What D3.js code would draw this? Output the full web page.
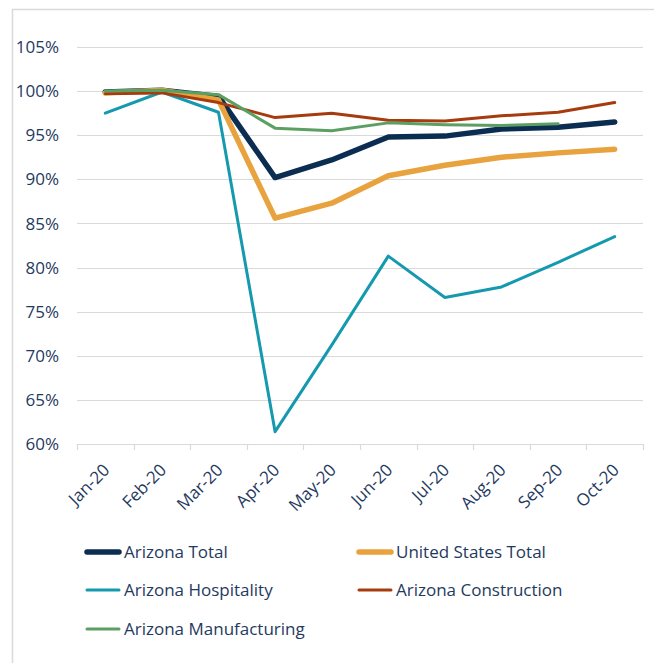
<!DOCTYPE html>
<html>
<head>
<meta charset="utf-8">
<script src="https://cdn.jsdelivr.net/npm/d3@7"></script>
<style>
  body { margin: 0; background: #fff; }
  text { font-family: 'Open Sans', 'Noto Sans', sans-serif; fill: #1f3a5f; }
</style>
</head>
<body>
<div id="chart"></div>
<script>
const W = 654;
const H = 663;

const months = ['Jan-20', 'Feb-20', 'Mar-20', 'Apr-20', 'May-20', 'Jun-20', 'Jul-20', 'Aug-20', 'Sep-20', 'Oct-20'];
const yTicks = [0.60, 0.65, 0.70, 0.75, 0.80, 0.85, 0.90, 0.95, 1.00, 1.05];

// share of Jan/Feb employment
const azTotal = [0.999, 1.001, 0.994, 0.902, 0.922, 0.948, 0.949, 0.957, 0.959, 0.965];
const usTotal = [0.998, 1.001, 0.990, 0.856, 0.873, 0.904, 0.916, 0.925, 0.930, 0.934];
const azHospitality = [0.975, 0.999, 0.976, 0.614, 0.712, 0.813, 0.766, 0.778, 0.806, 0.835];
const azConstruction = [0.997, 0.998, 0.987, 0.970, 0.975, 0.967, 0.966, 0.972, 0.976, 0.987];
const azManufacturing = [1.000, 1.001, 0.996, 0.958, 0.955, 0.964, 0.962, 0.961, 0.963, null];

const series = [
  { name: 'Arizona Total', values: azTotal, color: '#0b2d52', width: 5.5 },
  { name: 'United States Total', values: usTotal, color: '#e8a23e', width: 5.5 },
  { name: 'Arizona Hospitality', values: azHospitality, color: '#1599ae', width: 3 },
  { name: 'Arizona Construction', values: azConstruction, color: '#a63c0e', width: 3 },
  { name: 'Arizona Manufacturing', values: azManufacturing, color: '#5c9f62', width: 3 },
];

const pad = { l: 77, r: 11, t: 47, b: 219 };

const svg = d3.select('#chart')
  .append('svg')
  .attr('width', W)
  .attr('height', H);

// outer chart border
svg.append('rect')
  .attr('x', 12.5).attr('y', 9.5)
  .attr('width', W + 20).attr('height', H + 20)
  .attr('fill', 'none')
  .attr('stroke', '#d9d9d9')
  .attr('stroke-width', 1.5);

const x = d3.scaleBand()
  .domain(months)
  .range([pad.l, W - pad.r]);

const y = d3.scaleLinear()
  .domain([0.60, 1.05])
  .range([H - pad.b, pad.t]);

// gridlines
svg.append('g')
  .selectAll('line')
  .data(yTicks)
  .join('line')
  .attr('x1', pad.l).attr('x2', W - pad.r)
  .attr('y1', d => Math.round(y(d)) + 0.5)
  .attr('y2', d => Math.round(y(d)) + 0.5)
  .attr('stroke', '#d9d9d9')
  .attr('stroke-width', 1.2);

// y labels
svg.append('g')
  .selectAll('text')
  .data(yTicks)
  .join('text')
  .attr('x', 59)
  .attr('y', d => y(d))
  .attr('dy', '0.36em')
  .attr('text-anchor', 'end')
  .attr('font-size', 17)
  .text(d => d3.format('.0%')(d));

// x axis: ticks between categories, rotated labels
const xAxis = d3.axisBottom(x).tickSize(0).tickFormat(d => d);
const xg = svg.append('g')
  .attr('transform', `translate(0, ${y(0.60)})`)
  .call(xAxis);
xg.select('.domain').remove();
xg.selectAll('text')
  .attr('font-size', 17)
  .attr('fill', '#1f3a5f')
  .attr('text-anchor', 'end')
  .attr('dy', 0)
  .attr('transform', `translate(${x.bandwidth() / 2 - 25}, 25) rotate(-45)`);

const bounds = months.map(m => x(m)).concat([W - pad.r]);
svg.append('g')
  .selectAll('line')
  .data(bounds)
  .join('line')
  .attr('x1', d => Math.round(d) + 0.5).attr('x2', d => Math.round(d) + 0.5)
  .attr('y1', y(0.60)).attr('y2', y(0.60) + 6)
  .attr('stroke', '#d9d9d9')
  .attr('stroke-width', 1.2);

// lines
const line = d3.line()
  .defined(d => d != null)
  .x((d, i) => x(months[i]) + x.bandwidth() / 2)
  .y(d => y(d));

svg.append('g')
  .selectAll('path')
  .data(series)
  .join('path')
  .attr('d', d => line(d.values))
  .attr('fill', 'none')
  .attr('stroke', d => d.color)
  .attr('stroke-width', d => d.width)
  .attr('stroke-linejoin', 'round')
  .attr('stroke-linecap', 'round');

// legend
const legendPos = [
  { x: 85, y: 552 }, { x: 357, y: 552 },
  { x: 85, y: 590 }, { x: 357, y: 590 },
  { x: 85, y: 629 },
];

const legend = svg.append('g')
  .selectAll('g')
  .data(series)
  .join('g')
  .attr('transform', (d, i) => `translate(${legendPos[i].x}, ${legendPos[i].y})`);

legend.append('line')
  .attr('x1', 2).attr('x2', 34)
  .attr('stroke', d => d.color)
  .attr('stroke-width', d => d.width)
  .attr('stroke-linecap', 'round');

legend.append('text')
  .attr('x', 39)
  .attr('dy', '0.36em')
  .attr('font-size', 17)
  .text(d => d.name);
</script>
</body>
</html>
